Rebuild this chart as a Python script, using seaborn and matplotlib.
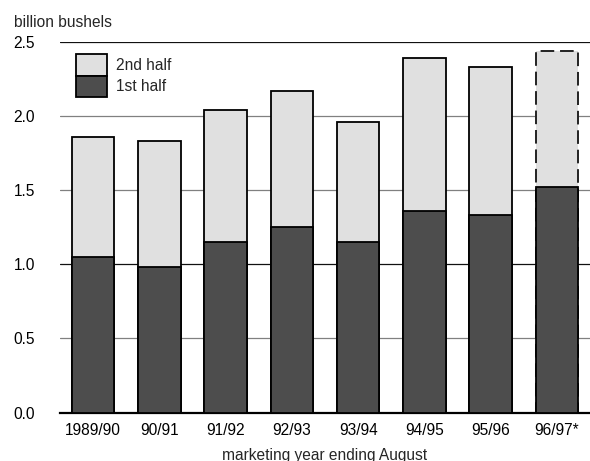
import matplotlib
matplotlib.use("Agg")
import matplotlib.pyplot as plt
from matplotlib.patches import Patch
import numpy as np
import pandas as pd
import seaborn as sns

# Marketing years and shipments (billion bushels) by half of the year
years = ["1989/90", "90/91", "91/92", "92/93", "93/94", "94/95", "95/96", "96/97*"]
first_half = [1.05, 0.98, 1.15, 1.25, 1.15, 1.36, 1.33, 1.52]
second_half = [0.81, 0.85, 0.89, 0.92, 0.81, 1.03, 1.00, 0.92]
yticks = [0.0, 0.5, 1.0, 1.5, 2.0, 2.5]
ytick_labels = ["0.0", "0.5", "1.0", "1.5", "2.0", "2.5"]

DARK = "#4d4d4d"
LIGHT = "#e0e0e0"
FS = 11.2

sns.set_theme(style="white")
plt.rcParams["font.family"] = ["Liberation Sans", "DejaVu Sans"]

df = pd.DataFrame({
    "year": years,
    "first": first_half,
    "total": np.array(first_half) + np.array(second_half),
})

fig = plt.figure(figsize=(5.90, 4.61), dpi=100)
ax = fig.add_axes([60 / 590, 1 - 412.7 / 461, 530 / 590, (412.7 - 41.7) / 461])

# Stacked bars: full-year total in light grey, first half in dark grey on top
sns.barplot(data=df, x="year", y="total", color=LIGHT, saturation=1,
            width=0.64, edgecolor="black", linewidth=1.3, ax=ax, zorder=2)
n = len(years)
sns.barplot(data=df, x="year", y="first", color=DARK, saturation=1,
            width=0.64, edgecolor="black", linewidth=1.3, ax=ax, zorder=3)

# Forecast year: second half drawn with a dashed outline
proj = ax.patches[n - 1]
proj.set_linestyle((0, (7, 3)))
proj.set_linewidth(1.4)
proj.set_edgecolor("#222222")

ax.set_xlim(-0.5, n - 0.5)
ax.set_ylim(0, 2.5)
ax.set_yticks(yticks)
ax.set_yticklabels(ytick_labels)
ax.set_xlabel("")
ax.set_ylabel("")

ax.tick_params(axis="both", length=0, labelsize=FS, colors="black")
ax.tick_params(axis="y", pad=18)
ax.tick_params(axis="x", pad=7.5)

# Horizontal grid behind the bars
ax.set_axisbelow(True)
ax.yaxis.grid(True, color="#808080", linewidth=0.9)
ax.xaxis.grid(False)
for val, gl in zip(yticks, ax.get_ygridlines()):
    if val in (1.0, 2.5):
        gl.set_color("#111111")

for side in ("top", "right", "left"):
    ax.spines[side].set_visible(False)
ax.spines["bottom"].set_color("black")
ax.spines["bottom"].set_linewidth(1.6)

handles = [
    Patch(facecolor=LIGHT, edgecolor="black", linewidth=1.3, label="2nd half"),
    Patch(facecolor=DARK, edgecolor="black", linewidth=1.3, label="1st half"),
]
ax.legend(handles=handles, loc="upper left",
          bbox_to_anchor=(16 / 530, (412.7 - 54) / 371), frameon=False,
          borderpad=0, borderaxespad=0, labelspacing=0,
          handlelength=2.0, handleheight=1.75, handletextpad=0.6,
          fontsize=FS)

fig.text(14 / 590, 1 - 27 / 461, "billion bushels", fontsize=FS,
         ha="left", va="baseline")
fig.text(325 / 590, 1.5 / 461, "marketing year ending August", fontsize=FS,
         ha="center", va="baseline")

fig.savefig("out.png", dpi=100)
